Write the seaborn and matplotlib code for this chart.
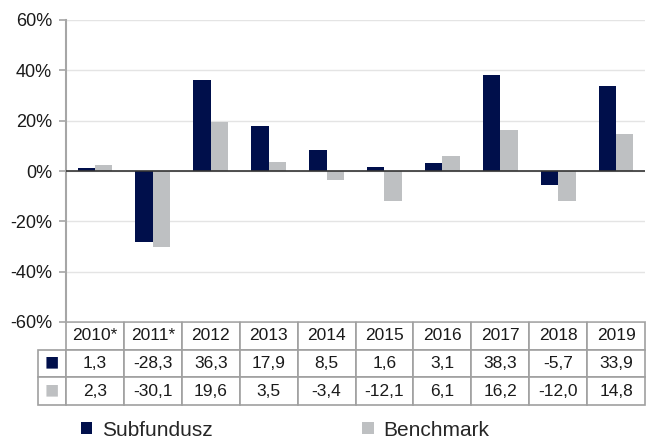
import matplotlib
matplotlib.use('Agg')
import matplotlib.pyplot as plt
import seaborn as sns
import pandas as pd

years = ['2010*', '2011*', '2012', '2013', '2014', '2015', '2016', '2017', '2018', '2019']
subfundusz = [1.3, -28.3, 36.3, 17.9, 8.5, 1.6, 3.1, 38.3, -5.7, 33.9]
benchmark = [2.3, -30.1, 19.6, 3.5, -3.4, -12.1, 6.1, 16.2, -12.0, 14.8]
series = ['Subfundusz', 'Benchmark']
colors = ['#000F4B', '#BEC0C2']
yticks = [-60, -40, -20, 0, 20, 40, 60]

sns.set_theme(style='white')
plt.rcParams['font.family'] = ['Liberation Sans', 'DejaVu Sans']

df = pd.DataFrame({
    'year': years * 2,
    'value': subfundusz + benchmark,
    'series': [series[0]] * len(years) + [series[1]] * len(years),
})

W, H = 646, 438
fig = plt.figure(figsize=(W / 100, H / 100), dpi=100)
ax_l, ax_r, ax_t, ax_b = 66, 645, 20, 322
ax = fig.add_axes([ax_l / W, 1 - ax_b / H, (ax_r - ax_l) / W, (ax_b - ax_t) / H])

sns.barplot(data=df, x='year', y='value', hue='series', palette=colors,
            width=0.6, saturation=1, edgecolor='none', ax=ax)

ax.set_ylim(-60, 60)
ax.set_xlim(-0.5, len(years) - 0.5)
ax.set_yticks(yticks)
ax.set_yticklabels([f'{v}%' for v in yticks], fontsize=13, color='#1a1a1a')
ax.set_xticks(range(len(years)))
ax.set_xticklabels([])
ax.tick_params(axis='x', length=0)
ax.tick_params(axis='y', left=True, length=5, width=1.2, color='#A6A6A6', pad=5)
ax.set_xlabel('')
ax.set_ylabel('')
ax.yaxis.grid(True, color='#E4E4E4', lw=1)
ax.set_axisbelow(True)
ax.axhline(0, color='#333333', lw=1.2, zorder=3)
for s in ['top', 'right', 'bottom']:
    ax.spines[s].set_visible(False)
ax.spines['left'].set_color('#A6A6A6')
ax.spines['left'].set_linewidth(1.5)

handles, labels = ax.get_legend_handles_labels()
ax.get_legend().remove()

def fmt(v):
    return f'{v:.1f}'.replace('.', ',')

cell_text = [[''] + years,
             ['\u25A0'] + [fmt(v) for v in subfundusz],
             ['\u25A0'] + [fmt(v) for v in benchmark]]
pw = ax_r - ax_l
ph = ax_b - ax_t
first_w = 28
col_w = [first_w] + [pw / len(years)] * len(years)
tot_w = sum(col_w)
tbl = ax.table(cellText=cell_text, colWidths=[c / tot_w for c in col_w],
               cellLoc='center',
               bbox=[-first_w / pw, -83 / ph, tot_w / pw, 83 / ph])
tbl.auto_set_font_size(False)
tbl.set_fontsize(12.5)
for (r, c), cell in tbl.get_celld().items():
    cell.set_edgecolor('#A0A0A0')
    cell.set_linewidth(1.2)
    cell.get_text().set_color('#1a1a1a')
    if r == 0 and c == 0:
        cell.visible_edges = ''
    if c == 0 and r > 0:
        cell.get_text().set_color(colors[r - 1])
        cell.get_text().set_fontsize(17)

fig.legend(handles, labels, loc='center left', bbox_to_anchor=(62 / W, 1 - 430 / H),
           ncol=2, frameon=False, fontsize=15, handlelength=0.55, handleheight=0.55,
           handletextpad=0.45, columnspacing=7.2)

fig.savefig('out.png', dpi=100)
